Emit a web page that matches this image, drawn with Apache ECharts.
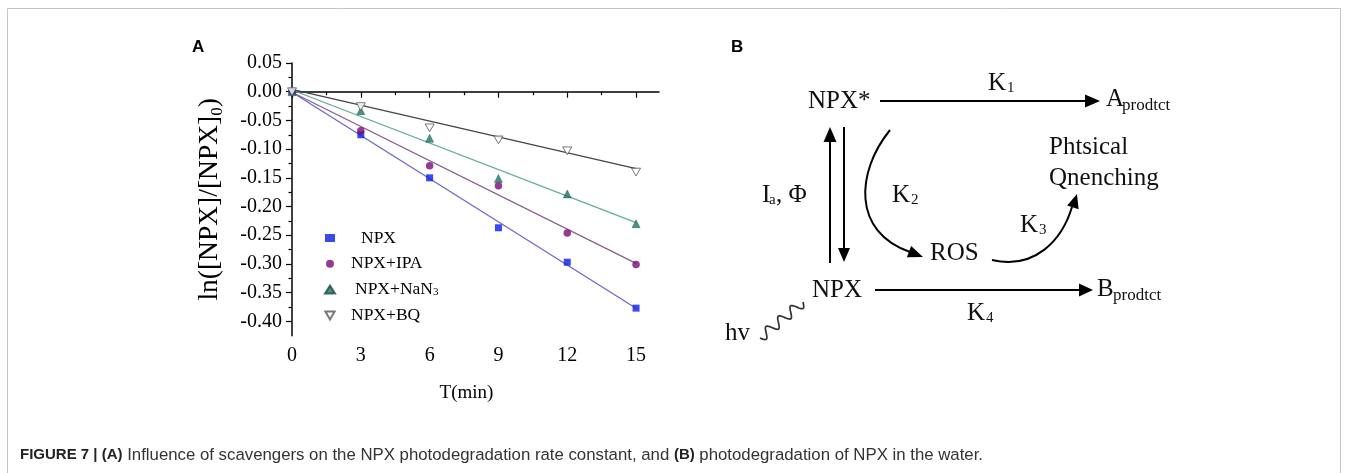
<!DOCTYPE html>
<html>
<head>
<meta charset="utf-8">
<script src="https://cdn.jsdelivr.net/npm/echarts@6/dist/echarts.min.js"></script>
<style>
  html, body { margin: 0; padding: 0; background: #fff; }
  #main { width: 1348px; height: 473px; }
</style>
</head>
<body>
<div id="main"></div>
<script>
// Sampling times (min)
const times = [0, 3, 6, 9, 12, 15];
// ln([NPX]/[NPX]0) for each scavenger condition
const npx     = [0, -0.075, -0.150, -0.237, -0.297, -0.377];
const npxIpa  = [0, -0.068, -0.129, -0.164, -0.246, -0.301];
const npxNaN3 = [0, -0.033, -0.081, -0.151, -0.178, -0.230];
const npxBq   = [0, -0.026, -0.063, -0.084, -0.103, -0.140];
// Linear fit lines (start and end points)
const fitNpx     = [[0, -0.001], [15, -0.377]];
const fitNpxIpa  = [[0, -0.001], [15, -0.299]];
const fitNpxNaN3 = [[0, 0.003], [15, -0.228]];
const fitNpxBq   = [[0, 0.004], [15, -0.134]];
// Axis ticks
const xTicks = [0, 3, 6, 9, 12, 15];
const xMinorTicks = [1.5, 4.5, 7.5, 10.5, 13.5];
const yTicks = [0.05, 0, -0.05, -0.10, -0.15, -0.20, -0.25, -0.30, -0.35, -0.40];
const yMinorTicks = [0.025, -0.025, -0.075, -0.125, -0.175, -0.225, -0.275, -0.325, -0.375];
const seriesNames = ['NPX', 'NPX+IPA', 'NPX+NaN3', 'NPX+BQ'];

const SERIF = 'Liberation Serif';
const SANS = 'Liberation Sans';
const pair = (xs, ys) => xs.map((x, i) => [x, ys[i]]);

const chart = echarts.init(document.getElementById('main'), null, { renderer: 'canvas' });

// ---- Panel B: reaction scheme drawn with graphic elements ----
const g = [];
function txt(x, y, s, size, extra) {
  g.push(Object.assign({
    type: 'text', x: x, y: y,
    style: { text: s, fontFamily: SERIF, fontSize: size, fill: '#111',
             textVerticalAlign: 'middle', textAlign: 'left' }
  }, extra || {}));
}
function line(x1, y1, x2, y2) {
  g.push({ type: 'line', shape: { x1, y1, x2, y2 }, style: { stroke: '#000', lineWidth: 2 } });
}
function head(tx, ty, dx, dy, len, hw) {
  const n = Math.hypot(dx, dy); dx /= n; dy /= n;
  const bx = tx - dx * len, by = ty - dy * len;
  g.push({ type: 'polygon', shape: { points: [[tx, ty], [bx - dy * hw, by + dx * hw], [bx + dy * hw, by - dx * hw]] },
           style: { fill: '#000' } });
}
function curve(x1, y1, cpx1, cpy1, cpx2, cpy2, x2, y2) {
  g.push({ type: 'bezierCurve', shape: { x1, y1, cpx1, cpy1, cpx2, cpy2, x2, y2 },
           style: { stroke: '#000', lineWidth: 2, fill: null } });
}

// Frame and panel letters
g.push({ type: 'rect', shape: { x: 7.5, y: 8.5, width: 1333, height: 480 },
         style: { fill: null, stroke: '#c4c4c4', lineWidth: 1 } });
g.push({ type: 'text', x: 192, y: 47, style: { text: 'A', fontFamily: SANS, fontWeight: 'bold', fontSize: 17, fill: '#000', textVerticalAlign: 'middle' } });
g.push({ type: 'text', x: 731, y: 47, style: { text: 'B', fontFamily: SANS, fontWeight: 'bold', fontSize: 17, fill: '#000', textVerticalAlign: 'middle' } });

// Species
txt(808, 101, 'NPX*', 25);
txt(812, 290, 'NPX', 25);
txt(930, 253, 'ROS', 25);
txt(1106, 99, 'A', 25);  txt(1122, 106, 'prodtct', 17);
txt(1097, 289, 'B', 25); txt(1113, 296, 'prodtct', 17);
txt(1049, 147, 'Phtsical', 25);
txt(1049, 178, 'Qnenching', 25);
txt(725, 333, 'hv', 25);

// Rate constants
txt(988, 83, 'K', 25);  txt(1007, 88, '1', 15);
txt(892, 195, 'K', 25); txt(911, 200, '2', 15);
txt(1020, 225, 'K', 25); txt(1039, 230, '3', 15);
txt(967, 313, 'K', 25); txt(986, 318, '4', 15);
txt(762, 195, 'I', 25); txt(769, 200, 'a', 15); txt(776, 195, ', \u03A6', 25);

// Arrows
line(880, 101, 1088, 101); head(1100, 101, 1, 0, 15, 6.5);
line(875, 290, 1081, 290); head(1093, 290, 1, 0, 14, 6.5);
line(830, 263, 830, 140);  head(830, 127, 0, -1, 15, 6.5);
line(844, 127, 844, 250);  head(844, 262, 0, 1, 14, 6);
curve(890, 130, 856, 172, 852, 232, 910, 252); head(923, 257, 13, 5, 15, 6);
curve(992, 260, 1035, 270, 1062, 240, 1072, 207); head(1077, 194, 4, -13, 14, 6);

// Photon wave
(function () {
  const x0 = 760, y0 = 338, x1 = 803, y1 = 302;
  const dx = x1 - x0, dy = y1 - y0, L = Math.hypot(dx, dy);
  const ux = dx / L, uy = dy / L, nx = -uy, ny = ux;
  const pts = [];
  for (let i = 0; i <= 80; i++) {
    const t = i / 80, a = 5 * Math.sin(t * Math.PI * 2 * 3.5);
    pts.push([x0 + dx * t + nx * a, y0 + dy * t + ny * a]);
  }
  g.push({ type: 'polyline', shape: { points: pts }, style: { stroke: '#333', lineWidth: 1.7, fill: null } });
})();

// Caption
g.push({
  type: 'text', x: 20, y: 455,
  style: {
    text: '{b|FIGURE 7 | (A)}{n| Influence of scavengers on the NPX photodegradation rate constant, and }{b|(B)}{n| photodegradation of NPX in the water.}',
    textVerticalAlign: 'middle',
    rich: {
      b: { fontFamily: SANS, fontWeight: 'bold', fontSize: 15, fill: '#222', color: '#222' },
      n: { fontFamily: SANS, fontSize: 16.8, fill: '#333', color: '#333' }
    }
  }
});

const axisFont = { fontFamily: SERIF, fontSize: 20, color: '#000' };
const black = { color: '#000', width: 1.5 };

const option = {
  animation: false,
  backgroundColor: '#fff',
  grid: { left: 292, top: 63, width: 367, height: 272.7, outerBoundsMode: 'none' },
  legend: {
    data: seriesNames,
    orient: 'vertical',
    left: 324, top: 229, padding: 0,
    itemWidth: 10, itemHeight: 8, itemGap: 7.8,
    textStyle: {
      fontFamily: SERIF, fontSize: 17.5, color: '#000', lineHeight: 16,
      rich: {
        t: { fontFamily: SERIF, fontSize: 17.5, color: '#000', lineHeight: 16, padding: [0, 0, 0, 11] },
        p: { fontFamily: SERIF, fontSize: 17.5, color: '#000', lineHeight: 16, padding: [0, 0, 0, 21] },
        q: { fontFamily: SERIF, fontSize: 17.5, color: '#000', lineHeight: 16, padding: [0, 0, 0, 15] },
        s: { fontFamily: SERIF, fontSize: 11, color: '#000', verticalAlign: 'bottom', lineHeight: 10 }
      }
    },
    formatter: function (name) {
      if (name === 'NPX') return '{p|NPX}';
      if (name === 'NPX+NaN3') return '{q|NPX+NaN}{s|3}';
      return '{t|' + name + '}';
    }
  },
  xAxis: [{
    type: 'value', min: 0, max: 16,
    name: 'T(min)', nameLocation: 'middle', nameGap: 48,
    nameTextStyle: { fontFamily: SERIF, fontSize: 19, color: '#000', padding: [0, 18, 0, 0] },
    axisLine: { lineStyle: black },
    axisTick: { customValues: xTicks, length: 6, lineStyle: { color: '#000', width: 1.2 } },
    axisLabel: Object.assign({ customValues: xTicks, margin: 10 }, axisFont),
    splitLine: { show: false }
  }, {
    type: 'value', min: 0, max: 16, position: 'bottom', gridIndex: 0,
    axisLine: { show: false },
    axisTick: { customValues: xMinorTicks, length: 3.5, lineStyle: { color: '#000', width: 1.2 } },
    axisLabel: { show: false },
    splitLine: { show: false }
  }],
  yAxis: [{
    type: 'value', min: -0.425, max: 0.05,
    name: '{n|ln([NPX]/[NPX]}{s|0}{n|)}', nameLocation: 'middle', nameGap: 66,
    nameTextStyle: {
      rich: {
        n: { fontFamily: SERIF, fontSize: 27.5, color: '#000', lineHeight: 32 },
        s: { fontFamily: SERIF, fontSize: 17, color: '#000', verticalAlign: 'bottom', lineHeight: 17 }
      }
    },
    axisLine: { lineStyle: black },
    axisTick: { customValues: yTicks, length: 6, lineStyle: { color: '#000', width: 1.2 } },
    axisLabel: Object.assign({ customValues: yTicks, margin: 10,
      formatter: v => v.toFixed(2) }, axisFont),
    splitLine: { show: false }
  }, {
    type: 'value', min: -0.425, max: 0.05, position: 'left', gridIndex: 0,
    axisLine: { show: false },
    axisTick: { customValues: yMinorTicks, length: 3.5, lineStyle: { color: '#000', width: 1.2 } },
    axisLabel: { show: false },
    splitLine: { show: false }
  }],
  series: [
    { name: 'fit1', type: 'line', data: fitNpx, showSymbol: false, lineStyle: { color: '#6b63c9', width: 1.2 }, z: 1 },
    { name: 'fit2', type: 'line', data: fitNpxIpa, showSymbol: false, lineStyle: { color: '#8c5a8c', width: 1.2 }, z: 1 },
    { name: 'fit3', type: 'line', data: fitNpxNaN3, showSymbol: false, lineStyle: { color: '#5fae94', width: 1.2 }, z: 1 },
    { name: 'fit4', type: 'line', data: fitNpxBq, showSymbol: false, lineStyle: { color: '#444444', width: 1.2 }, z: 1 },
    { name: 'NPX', type: 'scatter', data: pair(times, npx), symbol: 'rect', symbolSize: 7,
      itemStyle: { color: '#0a1ee6' }, z: 3 },
    { name: 'NPX+IPA', type: 'scatter', data: pair(times, npxIpa), symbol: 'circle', symbolSize: 7.5,
      itemStyle: { color: '#7a0a78' }, z: 3 },
    { name: 'NPX+NaN3', type: 'scatter', data: pair(times, npxNaN3), symbol: 'triangle', symbolSize: 8,
      itemStyle: { color: '#1f7366', borderColor: '#135048', borderWidth: 0.5 }, z: 3 },
    { name: 'NPX+BQ', type: 'scatter', data: pair(times, npxBq), symbol: 'path://M0,0L10,0L5,8.66Z',
      symbolKeepAspect: true, symbolSize: 9,
      itemStyle: { color: '#ffffff', borderColor: '#555', borderWidth: 1 }, z: 3 }
  ],
  graphic: g
};

chart.setOption(option);
</script>
</body>
</html>
